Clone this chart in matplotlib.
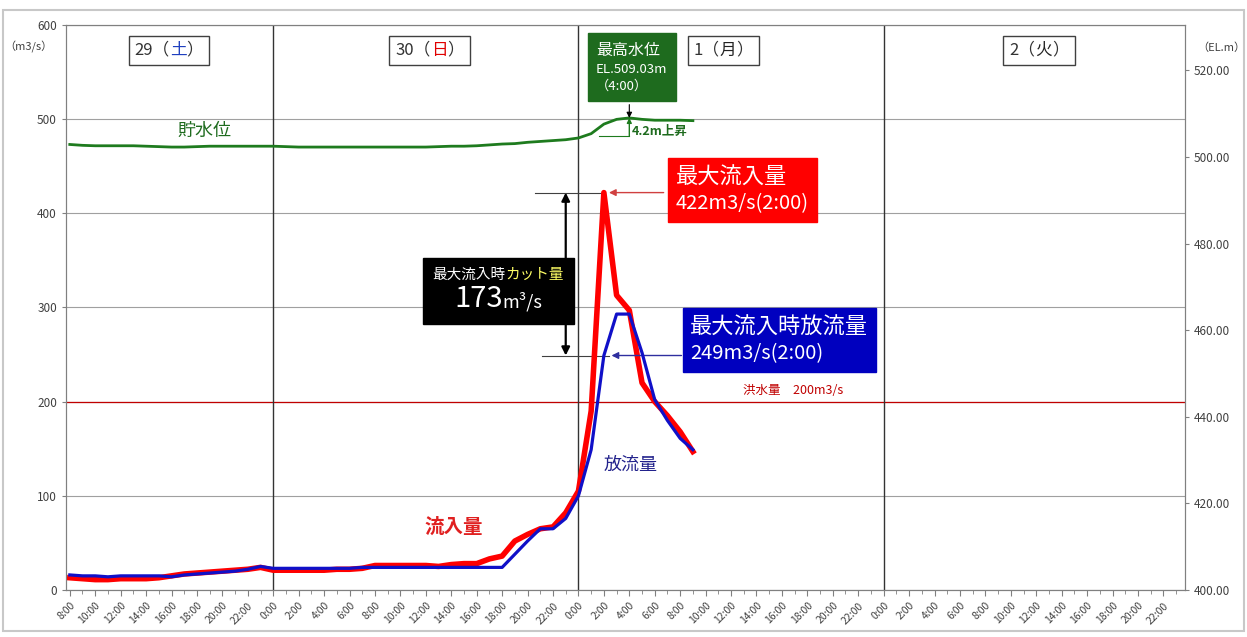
import numpy as np
import matplotlib
matplotlib.use('Agg')
import matplotlib.pyplot as plt
from matplotlib.offsetbox import TextArea, HPacker, VPacker, AnnotationBbox
from matplotlib.patches import Rectangle

plt.rcParams['font.family'] = ['Noto Sans CJK JP', 'DejaVu Sans']

# 時刻（29日0:00からの経過時間）
hours = list(range(8, 58))

# 流入量 (m3/s)
inflow = [13, 12, 11, 11, 12, 12, 12, 13, 15, 17, 18, 19, 20, 21, 22, 24,
          21, 21, 21, 21, 21, 22, 22, 23, 26, 26, 26, 26, 26, 25, 27, 28,
          28, 33, 36, 52, 59, 65, 67, 82,
          105, 190, 422, 313, 297, 220, 200, 185, 168, 147]

# 放流量 (m3/s)
outflow = [16, 15, 15, 14, 15, 15, 15, 15, 14, 16, 17, 18, 19, 20, 22, 25,
           23, 23, 23, 23, 23, 23, 23, 24, 24, 24, 24, 24, 24, 24, 24, 24,
           24, 24, 24, 38, 52, 65, 65, 76,
           100, 149, 249, 293, 293, 252, 202, 180, 161, 149]

# 貯水位 (EL.m)
level = [502.9, 502.7, 502.6, 502.6, 502.6, 502.6, 502.5, 502.4, 502.3, 502.3,
         502.4, 502.5, 502.5, 502.5, 502.5, 502.5,
         502.5, 502.4, 502.3, 502.3, 502.3, 502.3, 502.3, 502.3, 502.3, 502.3,
         502.3, 502.3, 502.3, 502.4, 502.5, 502.5, 502.6, 502.8, 503.0, 503.1,
         503.4, 503.6, 503.8, 504.0,
         504.4, 505.4, 507.6, 508.7, 509.03, 508.7, 508.5, 508.5, 508.5, 508.4]

flood_q = 200
day_lines = [24, 48, 72]
day_nums = ['29', '30', '1', '2']
day_kanji = ['土', '日', '月', '火']
day_colors = ['#1F3FBF', '#E00000', '#222222', '#222222']
day_centers = [15.8, 36.3, 59.4, 84.2]

tick_hours = list(range(8, 96, 2))
tick_labels = ['%d:00' % (h % 24) for h in tick_hours]

fig = plt.figure(figsize=(12.47, 6.37), dpi=100)
ax = fig.add_axes([0.0529, 0.0738, 0.8974, 0.887])
ax2 = ax.twinx()

# 線
ax.plot(hours, inflow, color='#FF0000', lw=4.0, zorder=3, solid_joinstyle='round')
ax.plot(hours, outflow, color='#1010C8', lw=2.3, zorder=4)
ax2.plot(hours, level, color='#1E7B1E', lw=2.0, zorder=3)

ax.axhline(flood_q, color='#C00000', lw=0.9, zorder=2)
for d in day_lines:
    ax.axvline(d, color='#333333', lw=1, zorder=2)

# 軸
ax.set_xlim(7.7, 95.7)
ax.set_ylim(0, 600)
ax.set_yticks(range(0, 700, 100))
ax.yaxis.grid(True, color='#A0A0A0', lw=0.8)
ax.set_axisbelow(True)
ax.set_xticks(tick_hours)
ax.set_xticklabels(tick_labels, rotation=45, ha='right', rotation_mode='anchor',
                   fontsize=7.5, color='#404040')
ax.set_xticks(range(8, 96), minor=True)
ax.tick_params(axis='x', which='major', length=4, color='#808080')
ax.tick_params(axis='x', which='minor', length=3, color='#808080')
ax.tick_params(axis='y', length=3, color='#808080', labelsize=8.5, labelcolor='#404040')

ax2.set_ylim(400, 530.5)
ax2.set_yticks(np.arange(400, 521, 20))
ax2.set_yticklabels(['%.2f' % v for v in np.arange(400, 521, 20)])
ax2.tick_params(axis='y', length=3, color='#808080', labelsize=8.5, labelcolor='#404040')

for a in (ax, ax2):
    for s in a.spines.values():
        s.set_color('#808080')

fig.text(28 / 1247, 1 - 47 / 637, '（m3/s）', ha='center', va='center', fontsize=8, color='#404040')
fig.text(1221 / 1247, 1 - 48 / 637, '（EL.m）', ha='center', va='center', fontsize=8, color='#404040')


def make_box(lines, align='left', sep=2):
    rows = []
    for parts in lines:
        tas = [TextArea(t, textprops=dict(color=c, fontsize=s)) for t, c, s in parts]
        rows.append(HPacker(children=tas, pad=0, sep=0, align='baseline'))
    return VPacker(children=rows, pad=0, sep=sep, align=align)


# 日付ボックス
for num, kanji, col, xc in zip(day_nums, day_kanji, day_colors, day_centers):
    box = make_box([[(num + '（', '#333333', 12), (kanji, col, 12), ('）', '#333333', 12)]])
    ab = AnnotationBbox(box, (xc, 573), xycoords='data', frameon=True, pad=0.45,
                        box_alignment=(0.5, 0.5),
                        bboxprops=dict(facecolor='white', edgecolor='#404040', lw=1), zorder=6)
    ax.add_artist(ab)

# 最高水位
box = make_box([[('最高水位', 'white', 11.5)],
                [('EL.509.03m', 'white', 9.5)],
                [('（4:00）', 'white', 9.5)]], sep=3)
ab = AnnotationBbox(box, (52.2, 555), frameon=True, pad=0.6, box_alignment=(0.5, 0.5),
                    bboxprops=dict(facecolor='#1E6B1E', edgecolor='#1E6B1E'), zorder=6)
ax.add_artist(ab)
ax2.annotate('', xy=(52, 509.03), xytext=(52, 512.1),
             arrowprops=dict(arrowstyle='-|>', color='black', lw=0.8, mutation_scale=8,
                             shrinkA=0, shrinkB=0))
ax2.plot([49.6, 52], [504.8, 504.8], color='#1E7B1E', lw=0.8)
ax2.annotate('', xy=(52, 509.03), xytext=(52, 504.8),
             arrowprops=dict(arrowstyle='-|>', color='#1E7B1E', lw=1, mutation_scale=7,
                             shrinkA=0, shrinkB=0))
ax2.text(52.2, 505.9, '4.2m上昇', color='#1E6B1E', fontsize=9, fontweight='bold',
         ha='left', va='center')

# 最大流入量
box = make_box([[('最大流入量', 'white', 16)], [('422m3/s(2:00)', 'white', 14.5)]], sep=3)
ab = AnnotationBbox(box, (60.9, 424.8), frameon=True, pad=0.55, box_alignment=(0.5, 0.5),
                    bboxprops=dict(facecolor='#FF0000', edgecolor='#FF0000'), zorder=6)
ax.add_artist(ab)
ax.annotate('', xy=(50.4, 422), xytext=(54.7, 422),
            arrowprops=dict(arrowstyle='-|>', color='#D04040', lw=1, mutation_scale=10,
                            shrinkA=0, shrinkB=0))
ax.plot([44.6, 50], [422, 422], color='#404040', lw=0.8)

# カット量
ax.plot([45.1, 50.4], [249, 249], color='#404040', lw=0.8)
ax.annotate('', xy=(47, 422), xytext=(47, 249),
            arrowprops=dict(arrowstyle='<|-|>', color='black', lw=1.6, mutation_scale=12,
                            shrinkA=0, shrinkB=0))
box = make_box([[('最大流入時', 'white', 10.5), ('カット量', '#FFFF66', 10.5)],
                [('173', 'white', 21), ('m³/s', 'white', 13)]], align='center', sep=2)
ab = AnnotationBbox(box, (41.7, 317.5), frameon=True, pad=0.7, box_alignment=(0.5, 0.5),
                    bboxprops=dict(facecolor='black', edgecolor='black'), zorder=7)
ax.add_artist(ab)

# 最大流入時放流量
box = make_box([[('最大流入時放流量', 'white', 16)], [('249m3/s(2:00)', 'white', 14.5)]], sep=3)
ab = AnnotationBbox(box, (63.8, 265.5), frameon=True, pad=0.55, box_alignment=(0.5, 0.5),
                    bboxprops=dict(facecolor='#0000BF', edgecolor='#0000BF'), zorder=6)
ax.add_artist(ab)
ax.annotate('', xy=(50.6, 249), xytext=(56.1, 249),
            arrowprops=dict(arrowstyle='-|>', color='#2F2F9F', lw=1, mutation_scale=10,
                            shrinkA=0, shrinkB=0))

# 系列ラベル
ax.text(18.6, 487.4, '貯水位', color='#1E6B1E', fontsize=13, ha='center', va='center')
ax.text(38.2, 67, '流入量', color='#E02020', fontsize=14, fontweight='bold', ha='center', va='center')
ax.text(52.1, 132.7, '放流量', color='#22228C', fontsize=13, ha='center', va='center')
ax.text(64.9, 212, '洪水量　200m3/s', color='#C00000', fontsize=9, ha='center', va='center')

# 外枠
fig.add_artist(Rectangle((3 / 1247, 6 / 637), 1241 / 1247, 621 / 637, transform=fig.transFigure,
                         fill=False, edgecolor='#C8C8C8', lw=1.5))

fig.savefig('out.png', dpi=100)
